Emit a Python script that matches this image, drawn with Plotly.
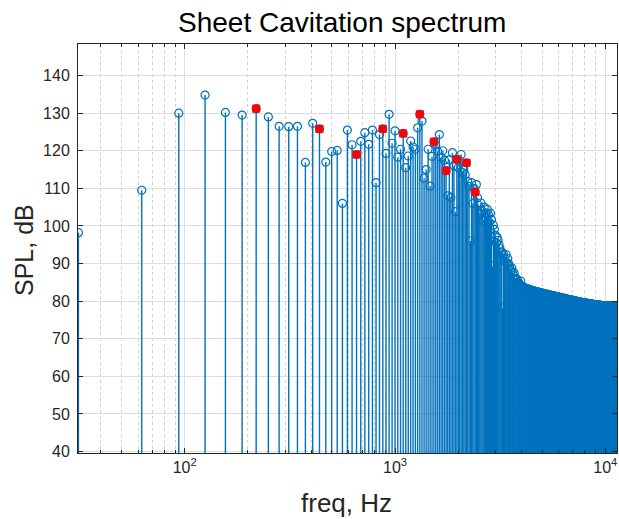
import numpy as np
import plotly.graph_objects as go

# FFT bin width (Hz); stems sit at bin_width * n
bin_width_hz = 31.25

spl_low = [
    98.2, 109.5, 130.0, 134.8, 130.2, 129.5, 131.2, 129.0, 126.5, 126.4,
    126.5, 116.9, 127.3, 125.8, 117.0, 119.8, 120.1, 106.0, 125.5, 121.6,
    119.0, 122.5, 124.8, 121.7, 125.5, 111.5, 124.3, 125.8, 119.3, 129.7,
    122.0, 125.3, 118.3, 120.4, 124.6, 115.5, 118.6, 122.6, 121.0, 120.4,
    126.1, 129.7, 127.9, 112.7, 115.0, 120.4, 110.6, 118.5, 122.4, 121.5,
    119.9, 124.3, 118.2, 120.0, 117.5, 114.7, 108.0, 117.6, 107.6, 119.5,
    116.0, 103.8, 117.7, 115.5, 117.2, 119.0, 114.2, 115.0, 113.6, 116.8,
    111.8, 110.5, 96.0, 111.5, 106.0, 110.0, 109.0, 111.0, 107.5, 105.5,
    103.0, 106.1, 104.0, 101.5, 105.0, 103.5, 102.0, 104.4, 103.0, 100.9,
    103.4, 101.7, 89.3, 100.2, 99.1, 97.5, 95.5, 96.9, 96.2, 95.0,
    94.0, 92.9, 93.1, 78.2, 92.5, 91.5, 90.5, 92.4, 90.0, 91.3,
    90.0, 89.3, 88.5, 88.0, 88.8, 87.5, 86.8, 87.5, 86.0, 85.6,
    86.0, 85.0, 84.8, 85.0, 84.5, 84.2, 85.3, 84.0, 83.8, 83.7,
]

spl_tail = [
    83.6, 83.5, 83.5, 83.4, 83.3, 83.3, 83.2, 83.2, 83.1, 83.0,
    83.0, 82.9, 82.9, 82.8, 82.8, 82.7, 82.7, 82.6, 82.6, 82.5,
    82.5, 82.5, 82.4, 82.4, 82.3, 82.3, 82.3, 82.2, 82.2, 82.1,
    82.1, 82.1, 82.0, 82.0, 81.9, 81.9, 81.9, 81.8, 81.8, 81.8,
    81.7, 81.7, 81.7, 81.6, 81.6, 81.6, 81.5, 81.5, 81.5, 81.4,
    81.4, 81.4, 81.3, 81.3, 81.3, 81.3, 81.2, 81.2, 81.2, 81.1,
    81.1, 81.1, 81.0, 81.0, 81.0, 80.9, 80.9, 80.9, 80.9, 80.8,
    80.8, 80.8, 80.7, 80.7, 80.7, 80.7, 80.6, 80.6, 80.6, 80.5,
    80.5, 80.5, 80.5, 80.4, 80.4, 80.4, 80.4, 80.3, 80.3, 80.3,
    80.3, 80.2, 80.2, 80.2, 80.2, 80.1, 80.1, 80.1, 80.1, 80.0,
    80.0, 80.0, 80.0, 79.9, 79.9, 79.9, 79.9, 79.8, 79.8, 79.8,
    79.8, 79.8, 79.7, 79.7, 79.7, 79.7, 79.7, 79.6, 79.6, 79.6,
    79.6, 79.6, 79.5, 79.5, 79.5, 79.5, 79.5, 79.5, 79.4, 79.4,
    79.4, 79.4, 79.4, 79.4, 79.3, 79.3, 79.3, 79.3, 79.3, 79.3,
    79.3, 79.2, 79.2, 79.2, 79.2, 79.2, 79.2, 79.2, 79.1, 79.1,
    79.1, 79.1, 79.1, 79.1, 79.1, 79.1, 79.0, 79.0, 79.0, 79.0,
    79.0, 79.0, 79.0, 79.0, 79.0, 78.9, 78.9, 78.9, 78.9, 78.9,
    78.9, 78.9, 78.9, 78.9, 78.9, 78.9, 78.8, 78.8, 78.8, 78.8,
    78.8, 78.8, 78.8, 78.8, 78.8, 78.8, 78.8, 78.8, 78.7, 78.7,
    78.7, 78.7, 78.7, 78.7, 78.7, 78.7, 78.7, 78.7, 78.7, 78.7,
    78.7, 78.7, 78.7, 78.7, 78.7, 78.6, 78.6, 78.6, 78.6, 78.6,
    78.6, 78.6, 78.6, 78.6, 78.6, 78.6, 78.6, 78.6, 78.6, 78.6,
    78.6, 78.6, 78.6, 78.5, 78.5, 78.5, 78.5, 78.5, 78.5, 78.5,
    78.5, 78.5, 78.5, 78.5, 78.5, 78.5, 78.5, 78.5, 78.5, 78.5,
]

spl = spl_low + spl_tail
harmonic = np.arange(1, len(spl) + 1)
freq = bin_width_hz * harmonic

# blade-passing harmonics highlighted in red
red_harmonics = [7, 14, 21, 28, 35, 42, 49, 56, 63, 70, 77]

y_ticks = [40, 50, 60, 70, 80, 90, 100, 110, 120, 130, 140]
x_ticks = [100, 1000, 10000]
x_ticktext = ["10<sup>2</sup>", "10<sup>3</sup>", "10<sup>4</sup>"]
x_minor = [m * 10 ** d for d in (1, 2, 3) for m in range(2, 10)]

BLUE = "#0072BD"
AX = "#262626"
baseline = 0

stem_x, stem_y = [], []
for f, v in zip(freq, spl):
    stem_x += [f, f, None]
    stem_y += [baseline, v, None]

fig = go.Figure()
fig.add_trace(go.Scatter(x=stem_x, y=stem_y, mode="lines",
                         line=dict(color=BLUE, width=1.4),
                         hoverinfo="skip", showlegend=False))
fig.add_trace(go.Scatter(x=freq, y=spl, mode="markers",
                         marker=dict(symbol="circle-open", size=8, color=BLUE,
                                     line=dict(width=1.2, color=BLUE)),
                         showlegend=False))
fig.add_trace(go.Scatter(x=[freq[h - 1] for h in red_harmonics],
                         y=[spl[h - 1] for h in red_harmonics], mode="markers",
                         marker=dict(symbol="square", size=8, color="#ff0000",
                                     line=dict(width=0)),
                         showlegend=False))

L, R, T, B = 78, 2, 44, 66
W, H = 619, 519
pw = W - L - R
ph = H - T - B

fig.update_layout(
    width=W, height=H,
    margin=dict(l=L, r=R, t=T, b=B, pad=0),
    paper_bgcolor="white", plot_bgcolor="white",
    font=dict(family="Liberation Sans, Arial, sans-serif", color=AX),
    xaxis=dict(type="log", range=[np.log10(31.25) - 0.002, 4.0555],
               tickvals=x_ticks, ticktext=x_ticktext,
               tickfont=dict(size=16, color=AX),
               ticks="inside", ticklen=5, tickcolor=AX, tickwidth=1,
               showline=True, linecolor=AX, linewidth=1, mirror="allticks",
               showgrid=True, gridcolor="#dedede", gridwidth=1,
               minor=dict(tickvals=x_minor, ticks="inside", ticklen=3,
                          tickcolor=AX, showgrid=True, gridcolor="#cfcfcf",
                          griddash="dot", gridwidth=1),
               zeroline=False),
    yaxis=dict(range=[39.6, 148.4], tickvals=y_ticks,
               tickfont=dict(size=16, color=AX), ticklabelstandoff=4,
               ticks="inside", ticklen=5, tickcolor=AX,
               showline=True, linecolor=AX, linewidth=1, mirror="allticks",
               showgrid=True, gridcolor="#dedede", gridwidth=1,
               zeroline=False),
    annotations=[
        dict(text="Sheet Cavitation spectrum", xref="paper", yref="paper",
             x=(342 - L) / pw, y=1 + (T - 22) / ph, xanchor="center", yanchor="middle",
             showarrow=False, font=dict(size=28, color="#000000")),
        dict(text="freq, Hz", xref="paper", yref="paper",
             x=(346 - L) / pw, y=-(503 - (H - B)) / ph, xanchor="center", yanchor="middle",
             showarrow=False, font=dict(size=26, color=AX)),
        dict(text="SPL, dB", xref="paper", yref="paper", textangle=-90,
             x=(24 - L) / pw, y=1 - (250 - T) / ph, xanchor="center", yanchor="middle",
             showarrow=False, font=dict(size=25, color=AX)),
    ],
)

fig.write_html("out.html")
